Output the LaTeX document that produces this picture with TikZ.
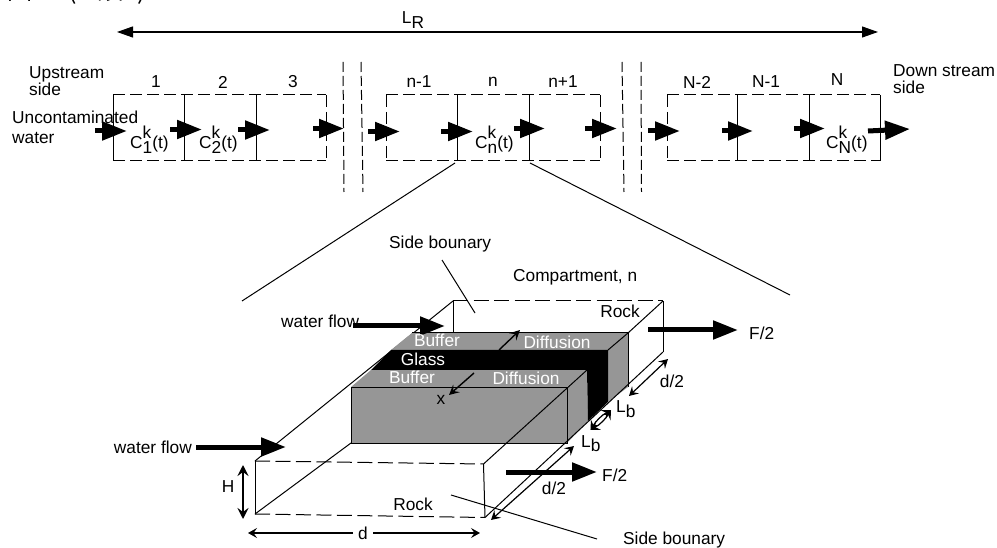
\documentclass[tikz,border=0pt]{standalone}
\usepackage{fontspec}
\setmainfont{Liberation Sans}
\newfontfamily\cjk{Noto Sans CJK TC}
\usetikzlibrary{arrows.meta}
\definecolor{blockgray}{HTML}{969696}
\tikzset{
  x=1pt,y=-1pt,
  lbl/.style={font=\fontsize{17.3}{17}\selectfont,inner sep=0pt,align=left},
  wht/.style={lbl,text=white},
  dsh/.style={line width=1pt,dash pattern=on 12pt off 5pt},
  dshb/.style={line width=1pt,dash pattern=on 15pt off 5.5pt},
  brk/.style={line width=1pt,dash pattern=on 10pt off 4pt},
  thin1/.style={line width=1pt},
  flow/.style={line width=5pt,-{Triangle[length=25pt,width=18pt,sep=0pt]}},
  hollow/.style={line width=1.2pt,{Stealth[length=9pt,width=10pt,inset=3.5pt]}-{Stealth[length=9pt,width=10pt,inset=3.5pt]}},
  onehead/.style={line width=1.4pt,-{Stealth[length=10pt,width=10pt,inset=4pt]}},
  lng/.style={line width=1.1pt,{Triangle[length=16pt,width=11pt]}-{Triangle[length=16pt,width=11pt]}}
}
\newcommand{\conc}[1]{C\rlap{\raisebox{10pt}{k}}\raisebox{-4.7pt}{#1}(t)}
\newcommand{\subb}[2]{#1\raisebox{-4.5pt}{#2}}
\begin{document}
\begin{tikzpicture}
\useasboundingbox (0,0) rectangle (997,548);
\node[anchor=base west,inner sep=0pt,font=\cjk\fontsize{25}{25}\selectfont] (title) at (7,-0.5) {圖\hspace{13pt}2\hspace{9pt}(\hspace{22pt}續\hspace{14pt})\hspace{8pt}。};
% span
\coordinate (la) at (117,32); \coordinate (lb) at (878,32);
\draw[lng] (la) -- (lb);
\node[lbl,anchor=base] (lr) at (413,24) {\subb{L}{R}};
% compartments
\foreach \n/\a/\b/\c/\d in {g1/113/184.5/256/326, g2/386/457/529/600, g3/667/737/809/880}{
  \coordinate (\n a) at (\a,95); \coordinate (\n b) at (\b,95); \coordinate (\n c) at (\c,95); \coordinate (\n d) at (\d,95);
  \coordinate (\n A) at (\a,161); \coordinate (\n B) at (\b,161); \coordinate (\n C) at (\c,161); \coordinate (\n D) at (\d,161);
  \draw[dsh] (\n a) -- (\n d) (\n A) -- (\n D);
  \draw[thin1] (\n b) -- (\n B) (\n c) -- (\n C);
}
\draw[thin1] (g1a) -- (g1A);
\draw[dsh] (g1d) -- (g1D) (g2a) -- (g2A) (g2d) -- (g2D) (g3a) -- (g3A);
\draw[thin1] (g3d) -- (g3D);
% breaks
\foreach \x/\y in {343/344,361/363,622/624,641/641.5}{
  \coordinate (bt\x) at (\x,62); \coordinate (bb\x) at (\y,192);
  \draw[brk] (bt\x) -- (bb\x);
}
% compartment numbers
\node[lbl] (n1) at (156,82) {1};
\node[lbl] (n2) at (223,82) {2};
\node[lbl] (n3) at (293,82) {3};
\node[lbl] (n4) at (419,82) {n-1};
\node[lbl] (n5) at (493,82) {n};
\node[lbl] (n6) at (563,82) {n+1};
\node[lbl] (n7) at (697,82) {N-2};
\node[lbl] (n8) at (766,82) {N-1};
\node[lbl] (n9) at (837,80) {N};
\node[lbl,anchor=west] (up) at (29,81) {Upstream\\side};
\node[lbl,anchor=west,font=\fontsize{17.3}{20}\selectfont] (unc) at (12,127) {Uncontaminated\\water};
\node[lbl,anchor=west] (down) at (893,79.5) {Down stream\\side};
% flows
\foreach \i/\x/\y/\e in {1/95/131/127,2/170/129.5/202,3/238/130/270,4/313/128.5/344,5/368/131.5/400,6/441/131.5/473,7/514/128.5/545,8/585/128.5/617,9/648/131/680,10/722/131/753,11/794/128.5/825}{
  \coordinate (fs\i) at (\x,\y); \coordinate (fe\i) at (\e,\y);
  \draw[flow] (fs\i) -- (fe\i);
}
\coordinate (fs12) at (868,131); \coordinate (fe12) at (910,129);
\draw[flow] (fs12) -- (fe12);
% concentration labels
\node[lbl,anchor=base west] (c1) at (130,149) {\conc{1}};
\node[lbl,anchor=base west] (c2) at (199,149) {\conc{2}};
\node[lbl,anchor=base west] (c3) at (475,149) {\conc{n}};
\node[lbl,anchor=base west] (c4) at (826,149) {\conc{N}};
% zoom lines
\coordinate (z1) at (455,163); \coordinate (z2) at (242,301);
\coordinate (z3) at (530,163); \coordinate (z4) at (790,295);
\draw[thin1] (z1) -- (z2) (z3) -- (z4);
% rock frame points
\coordinate (R1) at (453,301); \coordinate (R2) at (663,301);
\coordinate (R3) at (663,352);
\coordinate (F1) at (255,461); \coordinate (F2) at (483.5,464);
\coordinate (F3) at (255,514); \coordinate (F4) at (485,517.5);
% frame lines behind the block
\draw[thin1] (R1) -- (453,333) (R2) -- (R3);
\draw[thin1] (R1) -- (F1);
\draw[thin1] (R2) -- (628,333);
% block faces
\fill[blockgray] (412,333) -- (628,333) -- (608,350) -- (391,350) -- cycle;
\fill[blockgray] (608,350) -- (628,333) -- (628,387) -- (608,402) -- cycle;
\fill[blockgray] (371,370) -- (587,370) -- (567,387) -- (351,387) -- cycle;
\fill[blockgray] (567,387) -- (587,370) -- (588,421) -- (567,443) -- cycle;
\fill[blockgray] (351,387) -- (567,387) -- (567,443) -- (351,443) -- cycle;
\fill[black] (391,350) -- (608,350) -- (608,402) -- (588,421) -- (587,370) -- (371,370) -- cycle;
% block edges
\draw[thin1] (351,387) -- (567,387) -- (567,443) -- (351,443) -- cycle;
\draw[thin1] (412,333) -- (628,333) -- (628,387);
\draw[thin1] (608,350) -- (628,333);
% frame lines in front
\draw[dshb] (F1) -- (F2);
\draw[dshb] (F3) -- (F4);
\draw[dshb] (R1) -- (R2);
\draw[thin1] (F1) -- (F3);
\draw[thin1] (F2) -- (F4);
\draw[thin1] (F3) -- (351,443);
\draw[thin1] (F2) -- (587,370);
\draw[thin1] (F4) -- (R3);
% side lines
\coordinate (s1) at (442,260); \coordinate (s2) at (475,313);
\coordinate (s3) at (451,495); \coordinate (s4) at (597,539);
\draw[thin1] (s1) -- (s2) (s3) -- (s4);
% thick flows
\coordinate (w1) at (353,326); \coordinate (w2) at (445,326);
\coordinate (w3) at (196,447); \coordinate (w4) at (286,447);
\coordinate (w5) at (648,330); \coordinate (w6) at (738,330);
\coordinate (w7) at (506,472); \coordinate (w8) at (597,472);
\draw[flow] (w1) -- (w2);
\draw[flow] (w3) -- (w4);
\draw[flow] (w5) -- (w6);
\draw[flow] (w7) -- (w8);
% dims
\coordinate (h1) at (243,465); \coordinate (h2) at (243,519);
\draw[line width=2pt,{Stealth[length=11pt,width=11pt,inset=4pt]}-{Stealth[length=11pt,width=11pt,inset=4pt]}] (h1) -- (h2);
\coordinate (d1) at (248,533); \coordinate (d2) at (480,533);
\coordinate (dm1) at (353,533); \coordinate (dm2) at (373,533);
\draw[line width=1.2pt,-{Stealth[length=9pt,width=10pt,inset=3.5pt]}] (dm1) -- (d1);
\draw[line width=1.2pt,-{Stealth[length=9pt,width=10pt,inset=3.5pt]}] (dm2) -- (d2);
\coordinate (e1) at (491,520); \coordinate (e2) at (574,446);
\draw[hollow] (e1) -- (e2);
\coordinate (e3) at (629,396); \coordinate (e4) at (668,359);
\draw[hollow] (e3) -- (e4);
\coordinate (l1) at (590.5,430); \coordinate (l2) at (611,410);
\draw[hollow] (l1) to[bend left=14] (l2);
\draw[hollow] (l1) to[bend right=14] (l2);
\coordinate (x0) at (499,350); \coordinate (x3) at (520,330);
\draw[onehead] (x0) -- (x3);
\coordinate (x4) at (474,373); \coordinate (x5) at (449,395);
\draw[onehead] (x4) -- (x5);
% labels
\node[lbl,anchor=west] (sb) at (389,244) {Side bounary};
\node[lbl,anchor=west] (cn) at (513,277) {Compartment, n};
\node[lbl] (rk1) at (620,311) {Rock};
\node[lbl,anchor=west] (wf1) at (281,321) {water flow};
\node[lbl,anchor=east] (wf2) at (192,447) {water flow};
\node[lbl,anchor=west] (f1) at (749,333) {F/2};
\node[lbl,anchor=west] (f2) at (602,475) {F/2};
\node[lbl] (dh) at (672,381) {d/2};
\node[lbl] (dl) at (554,488) {d/2};
\node[lbl,anchor=base west] (lb1) at (616,413) {\subb{L}{b}};
\node[lbl,anchor=base west] (lb2) at (581,447) {\subb{L}{b}};
\node[lbl] (H) at (228,487) {H};
\node[lbl] (d) at (363,533) {d};
\node[lbl] (rk2) at (413,504) {Rock};
\node[lbl,anchor=west] (sb2) at (623,540) {Side bounary};
\node[lbl] (x) at (441,400) {x};
\node[wht] (bf1) at (437,340) {Buffer};
\node[wht] (df1) at (557,342) {Diffusion};
\node[wht] (gl) at (423,359) {Glass};
\node[wht] (bf2) at (412,377) {Buffer};
\node[wht] (df2) at (526,378) {Diffusion};
\end{tikzpicture}
\end{document}
